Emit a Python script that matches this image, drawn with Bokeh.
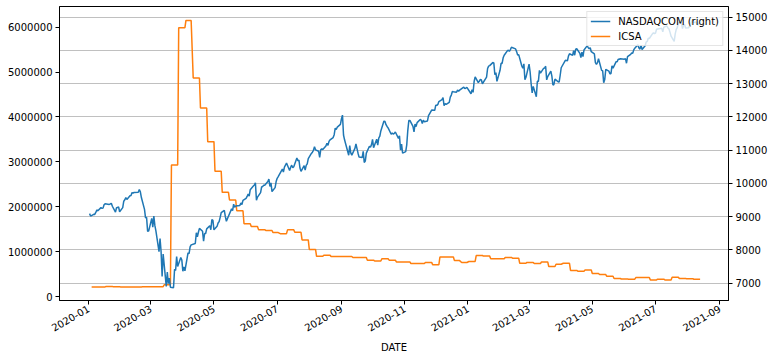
import math
from datetime import datetime, timedelta
import pandas as pd
from bokeh.plotting import figure
from bokeh.models import (Range1d, LinearAxis, SingleIntervalTicker, Grid, Legend,
                          LegendItem, DatetimeTickFormatter, MonthsTicker, BasicTickFormatter,
                          ColumnDataSource)
from bokeh.embed import file_html
from bokeh.resources import INLINE

# ---------------- data ----------------
market_holidays = ["2020-01-20", "2020-02-17", "2020-04-10", "2020-05-25", "2020-07-03",
                   "2020-09-07", "2020-11-26", "2020-12-25", "2021-01-01", "2021-01-18",
                   "2021-02-15", "2021-04-02", "2021-05-31", "2021-07-05"]
nasdaq_first_day = "2020-01-02"
nasdaq_last_day = "2021-08-13"

nasdaq_2020 = [
    # Jan
    9092, 9020, 9071, 9068, 9129, 9203, 9178, 9273, 9251, 9258, 9357, 9388, 9370, 9383, 9402,
    9314, 9139, 9269, 9275, 9298, 9150,
    # Feb
    9273, 9467, 9508, 9572, 9520, 9628, 9639, 9726, 9711, 9731, 9733, 9817, 9750, 9577, 9221,
    8966, 8980, 8566, 8567,
    # Mar
    8952, 8684, 9018, 8738, 8576, 7950, 8344, 7952, 7201, 7875, 6905, 7335, 6990, 7151, 6880,
    6861, 7418, 7384, 7798, 7502, 7774, 7700,
    # Apr
    7360, 7487, 7374, 7913, 7887, 8091, 8153, 8193, 8516, 8394, 8533, 8650, 8561, 8263, 8495,
    8495, 8634, 8730, 8607, 8915, 8890,
    # May
    8605, 8710, 8810, 8854, 8980, 9121, 9192, 9002, 8863, 8943, 9015, 9235, 9185, 9375, 9285,
    9325, 9340, 9412, 9368, 9490,
    # Jun
    9552, 9609, 9683, 9616, 9814, 9924, 9953, 10020, 9493, 9589, 9726, 9895, 9910, 9943, 9946,
    10056, 10131, 9909, 10017, 9757, 9874, 10058,
    # Jul
    10155, 10208, 10434, 10344, 10492, 10548, 10617, 10391, 10488, 10550, 10473, 10503, 10767,
    10680, 10706, 10462, 10363, 10536, 10403, 10542, 10587, 10745,
    # Aug
    10903, 10941, 10998, 11108, 11011, 10968, 10782, 11012, 11042, 11019, 11129, 11210, 11146,
    11265, 11312, 11380, 11466, 11665, 11625, 11696, 11775,
    # Sep
    11939, 12056, 11458, 11313, 10847, 11142, 10919, 10854, 11057, 11190, 11050, 10910, 10793,
    10779, 10963, 10633, 10672, 10914, 11118, 11086, 11168,
    # Oct
    11326, 11076, 11332, 11155, 11365, 11420, 11580, 11876, 11863, 11768, 11714, 11672, 11479,
    11517, 11485, 11506, 11548, 11358, 11431, 11005, 11186, 10912,
    # Nov
    10958, 11161, 11591, 11891, 11895, 11714, 11554, 11787, 11710, 11829, 11925, 11900, 11802,
    11905, 11855, 11881, 12037, 12095, 12206, 12199,
    # Dec
    12355, 12349, 12377, 12464, 12520, 12583, 12339, 12406, 12378, 12440, 12595, 12658, 12765,
    12756, 12743, 12808, 12771, 12805, 12900, 12850, 12870, 12888,
]
nasdaq_2021 = [
    # Jan
    12698, 12819, 12741, 13067, 13202, 13036, 13072, 13128, 13112, 12999, 13197, 13457, 13530,
    13543, 13635, 13626, 13271, 13337, 13070,
    # Feb
    13403, 13612, 13610, 13778, 13856, 13987, 14007, 13973, 14025, 14095, 14047, 13965, 13865,
    13874, 13533, 13465, 13597, 13119, 13192,
    # Mar
    13589, 13359, 12998, 12723, 12920, 12609, 13073, 13069, 13399, 13320, 13460, 13472, 13525,
    13116, 13215, 13378, 13228, 12962, 12977, 13139, 13059, 13046, 13247,
    # Apr
    13480, 13705, 13698, 13688, 13829, 13900, 13850, 13996, 13857, 14039, 14052, 13914, 13787,
    13951, 13818, 14016, 14138, 14090, 14051, 14082, 13962,
    # May
    13895, 13634, 13582, 13633, 13752, 13402, 13389, 13032, 13125, 13430, 13379, 13303, 13299,
    13536, 13471, 13662, 13658, 13738, 13736, 13749,
    # Jun
    13736, 13756, 13615, 13814, 13882, 13925, 13911, 14020, 14069, 14175, 14073, 14040, 14162,
    14030, 14141, 14253, 14272, 14370, 14360, 14500, 14528, 14504,
    # Jul
    14523, 14639, 14663, 14665, 14560, 14701, 14733, 14678, 14645, 14544, 14428, 14275, 14499,
    14632, 14685, 14837, 14840, 14660, 14763, 14779, 14673,
    # Aug
    14681, 14761, 14780, 14895, 14836, 14860, 14788, 14765, 14816, 14823,
]

icsa_first_week = "2020-01-04"   # weeks ending Saturday
icsa_2020 = [
    213000, 214000, 222000, 220000, 214000, 212000, 213000, 216000, 218000, 220000,
    262000, 2930000, 5990000, 6150000, 4870000, 4200000, 3450000, 2790000, 2320000, 2150000,
    1910000, 1620000, 1560000, 1490000, 1470000, 1425000, 1400000, 1485000, 1430000, 1260000,
    1050000, 895000, 920000, 890000, 890000, 890000, 870000, 870000, 810000, 790000,
    840000, 810000, 770000, 770000, 735000, 735000, 760000, 710000, 880000, 880000,
    800000, 757000,
]
icsa_2021 = [
    780000, 913000, 900000, 840000, 840000, 870000, 855000, 740000, 760000, 735000,
    770000, 668000, 720000, 740000, 580000, 565000, 590000, 512000, 490000, 450000,
    400000, 390000, 385000, 423000, 423000, 370000, 385000, 370000, 430000, 400000,
    395000, 385000,
]

# ---------------- build series ----------------
trading_days = pd.bdate_range(nasdaq_first_day, nasdaq_last_day)
trading_days = trading_days[~trading_days.isin(pd.to_datetime(market_holidays))]
nasdaq_vals = nasdaq_2020 + nasdaq_2021
n = min(len(trading_days), len(nasdaq_vals))
nasdaq = pd.Series(nasdaq_vals[:n], index=trading_days[:n])

icsa_vals = icsa_2020 + icsa_2021
icsa_weeks = pd.date_range(icsa_first_week, periods=len(icsa_vals), freq="W-SAT")
icsa = pd.Series(icsa_vals, index=icsa_weeks)

full_index = nasdaq.index.union(icsa.index)
icsa_daily = icsa.reindex(full_index).ffill().dropna()
icsa_daily = icsa_daily[icsa_daily.index <= nasdaq.index[-1]]

src_n = ColumnDataSource(dict(x=nasdaq.index, y=nasdaq.values))
src_i = ColumnDataSource(dict(x=icsa_daily.index, y=icsa_daily.values))

# ---------------- figure ----------------
FONT = "DejaVu Sans"
x_start = datetime(2020, 1, 1) - timedelta(days=28.0)
x_end = datetime(2021, 9, 1) + timedelta(days=8.4)

p = figure(frame_width=669, frame_height=294, x_axis_type="datetime",
           x_range=Range1d(x_start, x_end), y_range=Range1d(-89000, 6461000),
           output_backend="svg", toolbar_location=None,
           min_border_left=59, min_border_top=6, min_border_right=20, min_border_bottom=10)
p.extra_y_ranges = {"nasdaq": Range1d(6480, 15322)}

p.background_fill_color = "white"
p.border_fill_color = "white"
p.outline_line_color = "black"
p.outline_line_width = 1
p.outline_line_alpha = 1
p.xgrid.visible = False
p.ygrid.visible = False

right_ticker = SingleIntervalTicker(interval=1000)
grid = Grid(dimension=1, ticker=right_ticker, y_range_name="nasdaq",
            grid_line_color="#b0b0b0", grid_line_width=0.8)
p.add_layout(grid)

right_axis = LinearAxis(y_range_name="nasdaq", ticker=right_ticker)
p.add_layout(right_axis, "right")

p.yaxis[0].ticker = SingleIntervalTicker(interval=1000000)
p.yaxis[0].formatter = BasicTickFormatter(use_scientific=False)

p.xaxis.ticker = MonthsTicker(months=[0, 2, 4, 6, 8, 10])
p.xaxis.formatter = DatetimeTickFormatter(months="%Y-%m", days="%Y-%m", years="%Y-%m")
p.xaxis.major_label_orientation = math.pi / 6
p.xaxis.axis_label = "DATE"

for ax in list(p.xaxis) + list(p.yaxis):
    ax.axis_line_color = "black"
    ax.major_tick_line_color = "black"
    ax.major_tick_out = 4
    ax.major_tick_in = 0
    ax.minor_tick_line_color = None
    ax.major_label_text_font = FONT
    ax.major_label_text_font_size = "10px"
    ax.major_label_text_color = "black"
    ax.major_label_standoff = 3
    ax.axis_label_text_font = FONT
    ax.axis_label_text_font_size = "10px"
    ax.axis_label_text_font_style = "normal"
    ax.axis_label_text_color = "black"
    ax.axis_label_standoff = 4

r_icsa = p.line("x", "y", source=src_i, line_color="#ff7f0e", line_width=1.5)
r_nas = p.line("x", "y", source=src_n, line_color="#1f77b4", line_width=1.5,
               y_range_name="nasdaq")

legend = Legend(items=[LegendItem(label="NASDAQCOM (right)", renderers=[r_nas]),
                       LegendItem(label="ICSA", renderers=[r_icsa])],
                location="top_right", level="underlay")
legend.label_text_font = FONT
legend.label_text_font_size = "10px"
legend.label_text_color = "black"
legend.border_line_color = "#cccccc"
legend.background_fill_alpha = 0.8
legend.glyph_width = 20
legend.glyph_height = 12
legend.label_height = 12
legend.label_standoff = 8
legend.spacing = 3
legend.padding = 3
legend.margin = 5
p.add_layout(legend)

open("out.html", "w").write(file_html(p, INLINE))
